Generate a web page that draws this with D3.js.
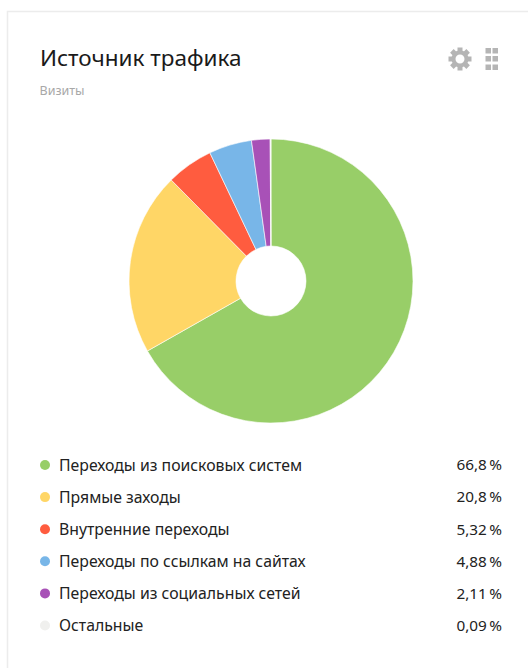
<!DOCTYPE html>
<html>
<head>
<meta charset="utf-8">
<script src="https://cdn.jsdelivr.net/npm/d3@7"></script>
<style>
html, body { margin: 0; padding: 0; background: #fff; }
text { font-family: "Noto Sans", sans-serif; }
</style>
</head>
<body>
<div id="graf"></div>
<script>
const categories = ["Переходы из поисковых систем", "Прямые заходы", "Внутренние переходы",
    "Переходы по ссылкам на сайтах", "Переходы из социальных сетей", "Остальные"];
const shares = [66.8, 20.8, 5.32, 4.88, 2.11, 0.09];
const shareLabels = ["66,8\u2009%", "20,8\u2009%", "5,32\u2009%", "4,88\u2009%", "2,11\u2009%", "0,09\u2009%"];
const colors = ["#98ce68", "#ffd666", "#ff5c3f", "#78b6e8", "#a851b7", "#f0f0ee"];

const width = 528, height = 668;

const svg = d3.select("#graf").append("svg")
    .attr("width", width)
    .attr("height", height)
    .style("display", "block");

// card outline, open on the right and bottom like the screenshot
svg.append("path")
    .attr("d", `M7.5,${height} V11.5 H${width}`)
    .attr("fill", "none")
    .attr("stroke", "#ececec")
    .attr("stroke-width", 1.5);

svg.append("text")
    .attr("x", 40)
    .attr("y", 66)
    .attr("font-size", 22.5)
    .attr("fill", "#1a1a1a")
    .text("Источник трафика");

svg.append("text")
    .attr("x", 39.5)
    .attr("y", 95)
    .attr("font-size", 12.5)
    .attr("fill", "#a8a8a8")
    .text("Визиты");

// gear
const gear = svg.append("g").attr("transform", "translate(460,59)");
gear.selectAll("rect")
    .data(d3.range(8))
    .join("rect")
    .attr("x", -2.5)
    .attr("y", -11.5)
    .attr("width", 5)
    .attr("height", 6)
    .attr("fill", "#b5b5b5")
    .attr("transform", d => `rotate(${d * 45})`);
gear.append("circle")
    .attr("r", 6.5)
    .attr("fill", "none")
    .attr("stroke", "#b5b5b5")
    .attr("stroke-width", 4);

// drag handle
svg.append("g")
    .selectAll("rect")
    .data(d3.cross([485.5, 492.5], [48, 56, 64.5]))
    .join("rect")
    .attr("x", d => d[0])
    .attr("y", d => d[1])
    .attr("width", 5.5)
    .attr("height", 5.5)
    .attr("fill", "#b5b5b5");

const pie = d3.pie().sort(null).value(d => d);
const arc = d3.arc().innerRadius(35).outerRadius(142);

svg.append("g")
    .attr("transform", "translate(271,281)")
    .selectAll("path")
    .data(pie(shares))
    .join("path")
    .attr("d", arc)
    .attr("fill", (d, i) => colors[i])
    .attr("stroke", "#fff")
    .attr("stroke-width", 0.6);

const y = d3.scalePoint().domain(categories).range([465, 625.5]);

const row = svg.append("g")
    .selectAll("g")
    .data(categories)
    .join("g")
    .attr("transform", d => `translate(0,${y(d)})`);

row.append("circle")
    .attr("cx", 45)
    .attr("r", 5)
    .attr("fill", (d, i) => colors[i]);

row.append("text")
    .attr("x", 59)
    .attr("dy", "0.35em")
    .attr("font-size", 15.8)
    .attr("fill", "#222")
    .text(d => d);

row.append("text")
    .attr("x", 502)
    .attr("dy", "0.35em")
    .attr("text-anchor", "end")
    .attr("font-size", 15.3)
    .attr("fill", "#222")
    .text((d, i) => shareLabels[i]);
</script>
</body>
</html>
